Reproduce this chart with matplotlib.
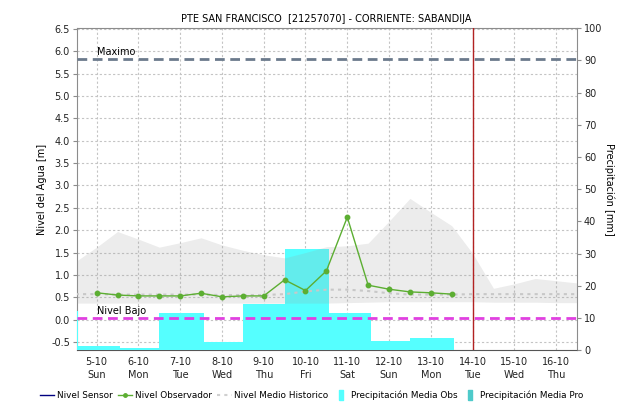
import matplotlib
matplotlib.use("Agg")
import matplotlib.pyplot as plt
from matplotlib.lines import Line2D
import numpy as np

# eje x: dias de octubre (indice 0 = 5-10)
dias = ["5-10", "6-10", "7-10", "8-10", "9-10", "10-10",
        "11-10", "12-10", "13-10", "14-10", "15-10", "16-10"]
semana = ["Sun", "Mon", "Tue", "Wed", "Thu", "Fri",
          "Sat", "Sun", "Mon", "Tue", "Wed", "Thu"]

# precipitacion media observada [mm] (4-10 .. 13-10)
precip_dia = [-1, 0, 1, 2, 3, 4, 5, 6, 7, 8]
precip_obs = [12.3, 1.4, 0.7, 11.7, 2.7, 14.4, 31.5, 11.5, 2.9, 4.0]

# nivel observador cada 12 h [m]
t_obs = np.arange(0, 9, 0.5)
nivel_obs = [0.60, 0.55, 0.53, 0.53, 0.53, 0.59, 0.51, 0.53, 0.53,
             0.89, 0.65, 1.09, 2.29, 0.77, 0.68, 0.62, 0.60, 0.57]

# historico cada 12 h: banda min-max y nivel medio [m]
t_hist = np.arange(-0.5, 11.75, 0.5)
hist_max = [1.30, 1.62, 1.97, 1.80, 1.62, 1.72, 1.83, 1.67, 1.55, 1.45,
            1.38, 1.50, 1.63, 1.65, 1.71, 2.20, 2.71, 2.40, 2.10, 1.48,
            0.70, 0.80, 0.92, 0.87, 0.82]
hist_min = [0.37] * 13 + [0.38, 0.39, 0.40, 0.40, 0.40, 0.40, 0.40,
                          0.39, 0.39, 0.39, 0.38, 0.38]
hist_medio = [0.57, 0.57, 0.56, 0.56, 0.56, 0.56, 0.56, 0.55, 0.55, 0.55,
              0.57, 0.63, 0.67, 0.67, 0.64, 0.59, 0.56,
              0.56, 0.56, 0.57, 0.57, 0.57, 0.57, 0.57, 0.57]

nivel_maximo = 5.83
nivel_bajo = 0.04
hoy = 9  # 14-10

verde = "#5cae32"
cian = "#55ffff"
gris = "#8c8c8c"

plt.rcParams["font.family"] = "DejaVu Sans"
plt.rcParams["font.size"] = 7

fig = plt.figure(figsize=(6.27, 4.12), dpi=100)
ax = fig.add_axes([0.1228, 0.1493, 0.7975, 0.7827])
axp = ax.twinx()
axl = fig.add_axes(ax.get_position(), sharex=ax, sharey=ax)
axl.set_zorder(2)
axl.patch.set_visible(False)
axl.axis("off")

# ejes y grilla
ax.set_xlim(-0.47, 11.5)
ax.set_ylim(-0.69, 6.52)
axp.set_ylim(0, 100)
ax.set_yticks(np.arange(-0.5, 6.51, 0.5))
ax.set_yticklabels([f"{v:.1f}" for v in np.arange(-0.5, 6.51, 0.5)])
axp.set_yticks(np.arange(0, 101, 10))
ax.set_xticks(range(len(dias)))
ax.set_xticklabels([f"{d}\n{s}" for d, s in zip(dias, semana)], linespacing=1.35)
ax.grid(True, color="#c4c4c4", linestyle=(0, (2, 2)), linewidth=0.8)
ax.set_axisbelow(True)

for sp in ["left", "top", "right"]:
    ax.spines[sp].set_color(gris)
ax.spines["bottom"].set_color("#555555")
ax.spines["bottom"].set_linestyle((0, (1, 1)))
for sp in axp.spines.values():
    sp.set_visible(False)

ax.tick_params(axis="y", length=3, color=gris, labelcolor="#222222", pad=2)
ax.tick_params(axis="x", length=0, labelcolor="#222222", pad=5)
axp.tick_params(axis="y", length=3, color=gris, labelcolor="#222222", pad=2)

ax.set_ylabel("Nivel del Agua [m]")
ax.yaxis.set_label_coords(-0.059, 0.5)
axp.set_ylabel("Precipitación [mm]", rotation=270, va="center")
axp.yaxis.set_label_coords(1.064, 0.5)

# barras de precipitacion (cada dia desde las 00h, algo mas anchas que un dia)
axp.bar(np.array(precip_dia) - 0.5, precip_obs, width=1.06, align="edge",
        color=cian, linewidth=0)

# banda historica y nivel medio
axl.fill_between(t_hist, hist_min, hist_max, color="#a0a0a0", alpha=0.2,
                 linewidth=0)
axl.plot(t_hist, hist_medio, color="#c8c8c8", linestyle=(0, (1.5, 2)),
         linewidth=1.5)

# niveles de referencia
axl.axhline(nivel_maximo, color="#6b7a8c", linestyle=(0, (3.5, 2)), linewidth=2)
axl.text(0.02, nivel_maximo + 0.04, "Maximo", va="bottom", ha="left", fontsize=7)
axl.axhline(nivel_bajo, color="#e040e0", linestyle=(0, (3.5, 2)), linewidth=2)
axl.text(0.02, nivel_bajo + 0.04, "Nivel Bajo", va="bottom", ha="left", fontsize=7)

# nivel observador
axl.plot(t_obs, nivel_obs, color=verde, linewidth=1, marker="o", markersize=3.2)

# fecha actual
axl.axvline(hoy, color="#b22222", linewidth=1)

fig.suptitle("PTE SAN FRANCISCO  [21257070] - CORRIENTE: SABANDIJA",
             y=0.965, fontsize=7, x=0.52)

# leyenda: las precipitaciones llevan un rectangulo angosto
barra = [(-0.25, -0.5), (0.25, -0.5), (0.25, 0.5), (-0.25, 0.5), (-0.25, -0.5)]
handles = [
    Line2D([], [], color="#000080", linewidth=1),
    Line2D([], [], color=verde, linewidth=1, marker="o", markersize=2.5),
    Line2D([], [], color="#d0d0d0", linewidth=1.5, linestyle=(0, (1.5, 2))),
    Line2D([], [], color=cian, linestyle="none", marker=barra, markersize=7),
    Line2D([], [], color="#4ecaca", linestyle="none", marker=barra, markersize=7),
]
labels = ["Nivel Sensor", "Nivel Observador", "Nivel Medio Historico",
          "Precipitación Media Obs", "Precipitación Media Pro"]
fig.legend(handles, labels, loc="center", bbox_to_anchor=(0.497, 0.041), ncol=5,
           frameon=False, fontsize=6.4, handlelength=1.6, handletextpad=0.3,
           columnspacing=0.6, borderpad=0)

fig.savefig("out.png", dpi=100)
